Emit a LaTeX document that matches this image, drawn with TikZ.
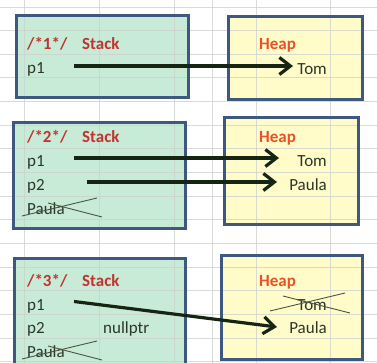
\documentclass[tikz,border=0pt]{standalone}
\usepackage{fontspec}
\setmainfont{Carlito}
\usetikzlibrary{arrows.meta}

\definecolor{gridgray}{RGB}{205,208,205}
\definecolor{boxblue}{RGB}{62,88,128}
\definecolor{stackfill}{RGB}{200,235,216}
\definecolor{heapfill}{RGB}{255,252,202}
\definecolor{stackred}{RGB}{192,52,48}
\definecolor{heaporange}{RGB}{232,82,38}
\definecolor{celltext}{RGB}{45,55,40}
\definecolor{arrowdark}{RGB}{22,36,20}
\definecolor{strike}{RGB}{75,85,65}

\tikzset{
  gridline/.style={draw=gridgray, line width=0.9pt, opacity=0.75},
  boxline/.style={draw=boxblue, line width=3pt},
  cell/.style={inner sep=0pt, anchor=base west, text=celltext, font=\fontsize{17}{19}\selectfont},
  rcell/.style={cell, anchor=base east},
  title/.style={cell, text=stackred, font=\fontsize{17}{19}\selectfont\bfseries},
  heaptitle/.style={cell, text=heaporange, font=\fontsize{17}{19}\selectfont\bfseries},
  pointer/.style={draw=arrowdark, line width=3.2pt,
    -{Straight Barb[length=11pt,width=17pt,line width=3.2pt]}},
  crossout/.style={draw=strike, line width=0.9pt}
}

\begin{document}
\begin{tikzpicture}[x=1pt,y=-1pt]
  \useasboundingbox (0,0) rectangle (377,363);
  \clip (0,0) rectangle (377,363);
  \fill[white] (0,0) rectangle (377,363);

  % box fills
  \fill[stackfill] (16,16) rectangle (188,98);
  \fill[heapfill] (228,17) rectangle (362,100);
  \fill[stackfill] (13,123) rectangle (185,229);
  \fill[heapfill] (224,118) rectangle (358,225);
  \fill[stackfill] (14,258) rectangle (185,375);
  \fill[heapfill] (221,255) rectangle (362,359);

  % worksheet grid
  \foreach \gx in {24.5,99,174,212,256,330}
    \draw[gridline] (\gx,0) -- (\gx,363);
  \foreach \k in {0,...,15}
    \draw[gridline] (0,7+23.64*\k) -- (377,7+23.64*\k);

  % box outlines
  \draw[boxline] (16,16) rectangle (188,98);
  \draw[boxline] (228,17) rectangle (362,100);
  \draw[boxline] (13,123) rectangle (185,229);
  \draw[boxline] (224,118) rectangle (358,225);
  \draw[boxline] (14,258) rectangle (185,375);
  \draw[boxline] (221,255) rectangle (362,359);

  % ---- step 1 ----
  \node[title] (c1) at (27,49.5) {/*1*/};
  \node[title] (s1) at (82,49.5) {Stack};
  \node[heaptitle] (h1) at (259,49.5) {Heap};
  \node[cell] (p1a) at (27,73.5) {p1};
  \node[rcell] (tom1) at (327,74.5) {Tom};
  \coordinate (p1aout) at (74,66);
  \coordinate (tom1in) at (293,66);
  \draw[pointer] (p1aout) -- (tom1in);

  % ---- step 2 ----
  \node[title] (c2) at (27,143) {/*2*/};
  \node[title] (s2) at (82,143) {Stack};
  \node[heaptitle] (h2) at (259,143) {Heap};
  \node[cell] (p1b) at (27,167) {p1};
  \node[cell] (p2b) at (27,191) {p2};
  \node[cell] (pau2) at (27,214.5) {Paula};
  \node[rcell] (tom2) at (327,167) {Tom};
  \node[rcell] (paula2) at (327,191) {Paula};
  \coordinate (p1bout) at (74,158);
  \coordinate (tom2in) at (279,158);
  \coordinate (p2bout) at (87,182);
  \coordinate (paula2in) at (277,182);
  \draw[pointer] (p1bout) -- (tom2in);
  \draw[pointer] (p2bout) -- (paula2in);
  \draw[crossout] (22,216) -- (97,198);
  \draw[crossout] (48,203) -- (102,217);

  % ---- step 3 ----
  \node[title] (c3) at (27,286.5) {/*3*/};
  \node[title] (s3) at (82,286.5) {Stack};
  \node[heaptitle] (h3) at (259,286.5) {Heap};
  \node[cell] (p1c) at (27,310) {p1};
  \node[cell] (p2c) at (27,333.5) {p2};
  \node[cell] (np3) at (103,333.5) {nullptr};
  \node[cell] (pau3) at (27,357) {Paula};
  \node[rcell] (tom3) at (327,310) {Tom};
  \node[rcell] (paula3) at (327,333.5) {Paula};
  \coordinate (p1cout) at (74,301.5);
  \coordinate (paula3in) at (277,327);
  \draw[pointer] (p1cout) -- (paula3in);
  \draw[crossout] (22,359) -- (97,341);
  \draw[crossout] (48,346) -- (102,360);
  \draw[crossout] (270,311) -- (345,293);
  \draw[crossout] (283,296) -- (350,313);
\end{tikzpicture}
\end{document}
